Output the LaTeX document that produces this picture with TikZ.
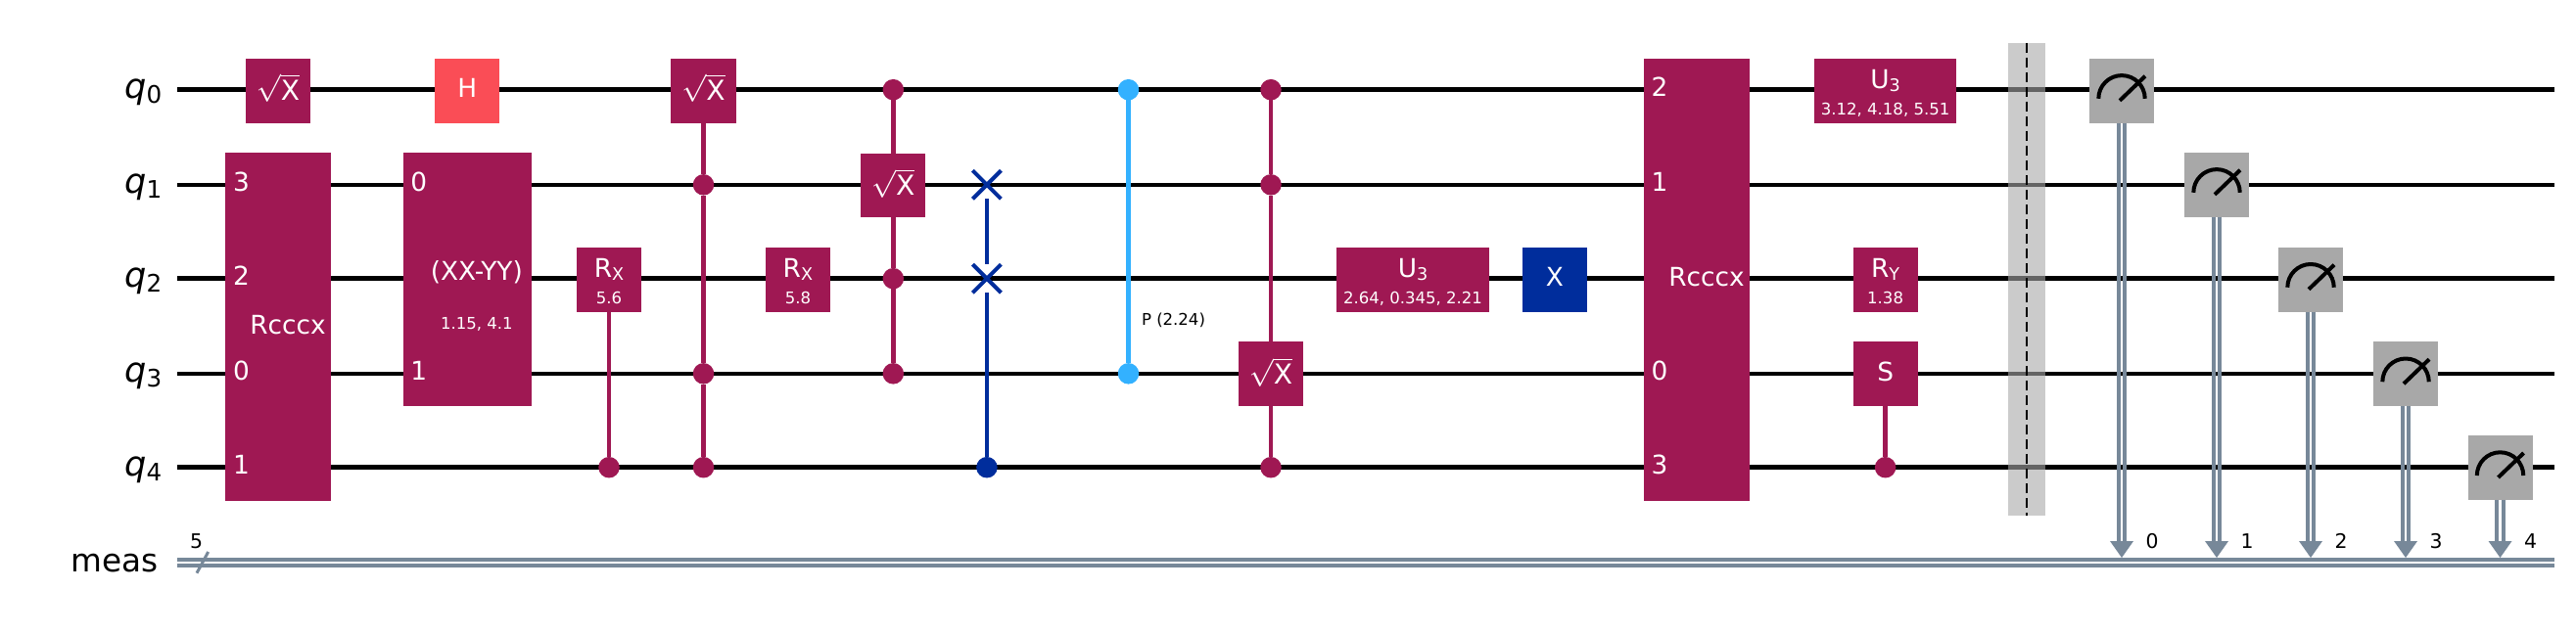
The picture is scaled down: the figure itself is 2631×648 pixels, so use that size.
\documentclass[tikz,border=0pt]{standalone}
\usepackage{fontspec}
\setmainfont{DejaVu Sans}
\usetikzlibrary{arrows.meta,calc,shapes.misc}
\definecolor{magenta1}{HTML}{9F1853}
\definecolor{red1}{HTML}{FA4D56}
\definecolor{blue1}{HTML}{002D9C}
\definecolor{sky1}{HTML}{33B1FF}
\definecolor{gray1}{HTML}{A8A8A8}
\definecolor{slate1}{HTML}{778899}
\newcommand{\gfont}{\fontsize{7.5}{8}\selectfont}
\newcommand{\sfont}{\fontsize{4.7}{5}\selectfont}
\newcommand{\rfont}{\fontsize{5.8}{6}\selectfont}
\newcommand{\sqx}{\fontsize{8}{9}\selectfont$\sqrt{\hbox{X}}$}
\newcommand{\subx}[2]{#1\raisebox{-1pt}{\fontsize{5}{5}\selectfont #2}}
\tikzset{
	wire/.style={line width=0.045cm,black},
	creg/.style={line width=0.04cm,slate1},
	gatebox/.style={fill=#1,minimum width=0.66cm,minimum height=0.657cm,inner sep=0,outer sep=0},
	gatebox/.default=magenta1,
	ctrl/.style={circle,fill=#1,minimum size=0.215cm,inner sep=0,outer sep=0},
	ctrl/.default=magenta1,
	link/.style={line width=0.045cm,#1},
	link/.default=magenta1,
	gtxt/.style={text=white,font=\gfont,anchor=base,inner sep=0},
	stxt/.style={text=white,font=\sfont,anchor=base,inner sep=0},
	rtxt/.style={text=black,font=\rfont,anchor=base,inner sep=0},
	qlab/.style={font=\fontsize{9.3}{10}\selectfont,anchor=base east,inner sep=0}
}
\begin{document}
\begin{tikzpicture}[x=0.01cm,y=-0.01cm,line join=round,>=stealth]
	\def\qa{91.7}
	\def\qb{188.8}
	\def\qc{284.7}
	\def\qd{381.8}
	\def\qe{477.7}
	\useasboundingbox (0,0) rectangle (2631,648);
	% wires and labels
	\foreach \i/\y in {0/\qa,1/\qb,2/\qc,3/\qd,4/\qe}{
		\coordinate (wl\i) at (181,\y);
		\coordinate (wr\i) at (2609,\y);
		\draw[wire] (wl\i)--(wr\i);
		\node[qlab] (lab\i) at (166,\y+8.5) {{\fontsize{10}{10}\selectfont\itshape q}\raisebox{-1.5pt}{\fontsize{7}{7}\selectfont \i}};
	}
	\node[qlab] (labm) at (162,584) {meas};
	\path (181,571.5) coordinate (cla) (2609,571.5) coordinate (cra)
	(181,577.9) coordinate (clb) (2609,577.9) coordinate (crb)
	(201,585.7) coordinate (sla) (212.7,564) coordinate (slb);
	\draw[creg] (cla)--(cra);
	\draw[creg] (clb)--(crb);
	\draw[line width=0.03cm,slate1] (sla)--(slb);
	\node[rtxt] (regsize) at (200.5,560.5) {5};
	% gate boxes
	\node[gatebox] (sx1) at (284,\qa+1) {};
	\node[gatebox,minimum width=1.079cm,minimum height=3.558cm] (rc1) at (284.15,333.7) {};
	\node[gatebox=red1] (h1) at (477.3,\qa+1) {};
	\node[gatebox,minimum width=1.308cm,minimum height=2.587cm] (xy1) at (477.6,285.15) {};
	\node[gatebox] (rx1) at (622,285.7) {};
	\node[gatebox] (sx2) at (718.5,\qa+1) {};
	\node[gatebox] (rx2) at (814.9,285.7) {};
	\node[gatebox] (sx3) at (912.3,\qb+.7) {};
	\node[gatebox] (sx4) at (1298,382.2) {};
	\node[gatebox,minimum width=1.56cm] (u1) at (1443,285.7) {};
	\node[gatebox=blue1] (x1) at (1588,285.7) {};
	\node[gatebox,minimum width=1.083cm,minimum height=4.516cm] (rc2) at (1733.15,285.8) {};
	\node[gatebox,minimum width=1.447cm] (u2) at (1925.6,\qa+1) {};
	\node[gatebox] (ry1) at (1925.6,285.7) {};
	\node[gatebox] (s1) at (1925.6,382.2) {};
	% controls
	\foreach \nm/\x/\y in {ca/622/\qe,cb/718.5/\qb,cc/718.5/\qd,cd/718.5/\qe,ce/912.3/\qa,cf/912.3/\qc,cg/912.3/\qd,ch/1298/\qa,ci/1298/\qb,cj/1298/\qe,ck/1925.6/\qe}
	\node[ctrl] (\nm) at (\x,\y) {};
	\node[ctrl=blue1] (swd) at (1007.9,\qe) {};
	\node[ctrl=sky1] (pa) at (1152.5,\qa) {};
	\node[ctrl=sky1] (pb) at (1152.5,\qd) {};
	\foreach \nm/\y in {swa/\qb,swb/\qc}
	\node[cross out,draw=blue1,line width=0.04cm,minimum size=0.29cm,inner sep=0,outer sep=0] (\nm) at (1007.9,\y) {};
	% connectors
	\foreach \a/\b in {rx1/ca,sx2/cb,cb/cc,cc/cd,ce/sx3,sx3/cf,cf/cg,ch/ci,ci/sx4,sx4/cj,s1/ck}
	\draw[link] (\a)--(\b);
	\draw[link=blue1] (swa)--(swb);
	\draw[link=blue1] (swb)--(swd);
	\draw[link=sky1] (pa)--(pb);
	% gate texts
	\foreach \nm/\x/\y/\t in {ta/284/102.5/\sqx,tb/718.5/102.5/\sqx,tc/912.3/199.6/\sqx,td/1298/392.6/\sqx}
	\node[gtxt] (\nm) at (\x,\y) {\t};
	\foreach \nm/\x/\y/\t in {te/477.3/99.2/H,tf/294/341/Rcccx,tg/486.8/286.4/(XX-YY),th/1588/292.2/X,ti/1743/292.2/Rcccx,tj/1925.6/389.3/S,
		n3/246.5/195.5/3,n2/246.5/291.4/2,n0/246.5/388.5/0,n1/246.5/484.4/1,
		xa/427.7/195.5/0,xb/427.7/388.5/1,
		ma/1695/98.4/2,mb/1695/195.5/1,mc/1695/388.5/0,md/1695/484.4/3}
	\node[gtxt] (\nm) at (\x,\y) {\t};
	\foreach \nm/\x/\y/\t in {ra/622/283/\subx{R}{X},rb/814.9/283/\subx{R}{X},rc/1443/283/\subx{U}{3},rd/1925.6/90/\subx{U}{3},re/1925.6/283/\subx{R}{Y}}
	\node[gtxt] (\nm) at (\x,\y) {\t};
	\foreach \nm/\x/\y/\t in {va/622/310/5.6,vb/814.9/310/5.8,vc/1443/310/{2.64, 0.345, 2.21},vd/1925.6/117/{3.12, 4.18, 5.51},ve/1925.6/310/1.38,vf/486.8/336/{1.15, 4.1}}
	\node[stxt] (\nm) at (\x,\y) {\t};
	\node[stxt,text=black] (plab) at (1198.5,332.6) {P (2.24)};
	% barrier
	\node[fill=gray1,fill opacity=0.6,minimum width=0.373cm,minimum height=4.826cm,inner sep=0,outer sep=0] (bar) at (2070,285.1) {};
	\draw[line width=0.017cm,black,dash pattern=on 0.1cm off 0.05cm] (bar.north)--(bar.south);
	% measures
	\foreach \i/\x/\y in {0/2167/92.8,1/2264/188.8,2/2360/285.7,3/2457/382.2,4/2553.5/478}{
		\node[gatebox=gray1] (m\i) at (\x,\y) {};
		\draw[line width=0.04cm] ($(m\i)+(-23.7,8)$) arc[start angle=180,end angle=0,radius=0.237cm];
		\draw[line width=0.04cm] ($(m\i)+(-2,10)$)--($(m\i)+(24,-15)$);
		\coordinate (t\i) at (\x,570);
		\coordinate (h\i) at (\x,553);
		\draw[creg] ([xshift=-0.032cm]m\i.south)--([xshift=-0.032cm]h\i);
		\draw[creg] ([xshift=0.032cm]m\i.south)--([xshift=0.032cm]h\i);
		\draw[line width=0pt,slate1,-{Triangle[width=0.24cm,length=0.17cm,fill=slate1]}] (h\i)--(t\i);
		\node[rtxt] (reg\i) at (\x+31,560) {\i};
	}
\end{tikzpicture}
\end{document}
